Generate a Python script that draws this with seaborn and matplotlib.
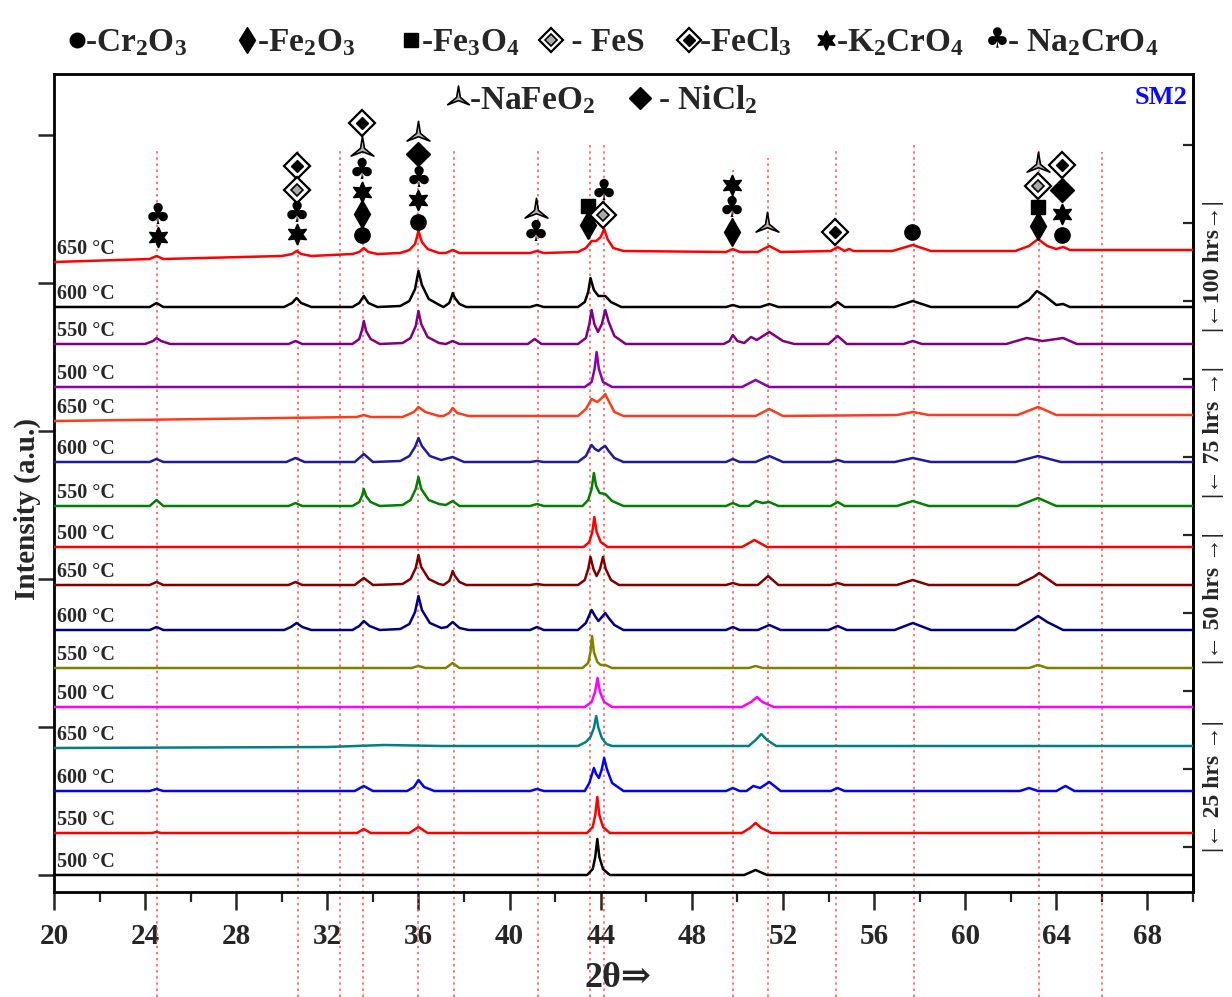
import numpy as np
import pandas as pd
import matplotlib
matplotlib.use("Agg")
import matplotlib.pyplot as plt
from matplotlib.path import Path
import seaborn as sns

# ------------------------------------------------------------------ data
temp_labels = ["650 °C", "600 °C", "550 °C", "500 °C"] * 4
durations = ["100 hrs"] * 4 + ["75 hrs"] * 4 + ["50 hrs"] * 4 + ["25 hrs"] * 4
stack_offsets = [613, 568, 531, 488, 454, 413, 369, 328, 290, 245, 207, 168, 127, 84, 42, 0]
trace_colors = ["#FF0000", "#000000", "#800080", "#8B00B0",
                "#FF3A1A", "#1C1C9C", "#008000", "#FF0000",
                "#800000", "#000080", "#808000", "#FF00FF",
                "#008080", "#0000FF", "#FF0000", "#000000"]

# (2theta, intensity a.u.) vertices
p100_650 = [(20,0),(24.2,3),(24.5,6),(24.8,3),(30.0,6),(30.45,8),(30.65,11),(30.85,8),(31.3,6),(33.1,8),(33.4,10),(33.6,14),(33.8,10),(34.2,8),(35.2,9),(35.6,12),(35.85,18),(36.0,31),(36.15,20),(36.4,13),(36.9,9),(37.2,9),(37.5,12),(37.8,9),(40.9,9),(41.2,11),(41.5,9),(43.0,10),(43.35,14),(43.6,21),(43.8,21),(44.0,25),(44.15,33),(44.3,23),(44.55,14),(45.0,11),(49.5,10),(49.8,13),(50.1,10),(50.9,10),(51.4,16),(51.9,10),(54.1,11),(54.4,15),(54.7,11),(54.9,13),(55.1,11),(56.8,11),(57.7,17),(58.5,11),(62.2,11),(62.8,16),(63.2,23),(63.6,16),(64.0,13),(64.3,15),(64.6,12),(70,12)]
p100_600 = [(20,0),(24.2,0),(24.5,4),(24.8,0),(30.1,0),(30.45,4),(30.65,9),(30.85,4),(31.3,0),(33.1,0),(33.4,4),(33.6,11),(33.8,4),(34.2,0),(35.2,1),(35.6,6),(35.85,18),(36.0,36),(36.15,22),(36.45,8),(37.0,1),(37.1,0),(37.35,4),(37.45,10),(37.5,14),(37.6,9),(37.8,3),(38.1,0),(40.9,0),(41.2,2),(41.5,0),(43.0,0),(43.3,5),(43.45,15),(43.55,29),(43.7,17),(43.9,11),(44.2,11),(44.45,5),(44.9,0),(49.5,0),(49.8,2),(50.1,0),(51.0,0),(51.4,3),(51.8,0),(54.1,0),(54.4,5),(54.7,0),(56.9,0),(57.7,6),(58.5,0),(62.3,0),(62.8,7),(63.15,16),(63.5,11),(64.0,2),(64.3,3),(64.6,0),(70,0)]
p100_550 = [(20,0),(24.0,0),(24.35,3),(24.5,6),(24.7,3),(25.1,0),(30.3,0),(30.6,3),(30.9,0),(33.1,0),(33.4,5),(33.52,14),(33.6,23),(33.7,13),(33.9,5),(34.3,0),(35.3,1),(35.65,6),(35.88,18),(36.0,33),(36.12,20),(36.4,7),(36.9,1),(37.2,0),(37.5,3),(37.8,0),(40.8,0),(41.1,5),(41.4,0),(43.0,0),(43.35,6),(43.5,20),(43.6,34),(43.72,20),(43.88,12),(44.05,20),(44.2,34),(44.35,22),(44.6,8),(45.1,0),(49.4,0),(49.65,3),(49.8,9),(50.0,3),(50.3,1),(50.6,7),(50.85,4),(51.4,12),(52.0,3),(52.5,0),(54.0,0),(54.4,8),(54.8,0),(57.3,0),(57.7,3),(58.1,0),(61.8,0),(62.7,6),(63.4,3),(64.3,6),(64.9,0),(70,0)]
p100_500 = [(20,0),(43.3,0),(43.6,5),(43.73,18),(43.82,35),(43.92,18),(44.1,5),(44.5,0),(50.2,0),(50.8,7),(51.4,0),(70,0)]
p75_650 = [(20,0),(30.0,3),(33.3,4),(33.6,6),(33.9,4),(35.3,4),(35.8,9),(36.0,14),(36.3,9),(36.9,5),(37.1,5),(37.35,8),(37.5,13),(37.7,8),(38.2,5),(43.0,5),(43.35,12),(43.6,22),(43.85,19),(44.05,23),(44.2,27),(44.35,20),(44.6,9),(45.0,5),(50.8,5),(51.4,12),(52.0,5),(57.0,6),(57.7,9),(58.4,6),(62.3,6),(63.2,14),(64.0,6),(70,6)]
p75_600 = [(20,0),(24.2,0),(24.5,3),(24.8,0),(30.2,0),(30.6,4),(31.0,0),(33.2,0),(33.6,8),(34.0,0),(35.2,1),(35.6,6),(35.85,15),(36.0,24),(36.15,16),(36.5,6),(37.0,2),(37.5,5),(38.0,0),(40.9,0),(41.2,1),(41.5,0),(43.0,0),(43.35,6),(43.5,13),(43.6,17),(43.75,13),(43.9,11),(44.05,14),(44.2,16),(44.35,11),(44.6,4),(45.0,0),(49.5,0),(49.8,3),(50.1,0),(50.8,0),(51.4,6),(52.0,0),(54.1,0),(54.4,2),(54.7,0),(56.9,0),(57.7,4),(58.5,0),(62.2,0),(63.2,6),(64.2,0),(70,0)]
p75_550 = [(20,0),(24.2,0),(24.5,6),(24.8,0),(30.3,0),(30.6,3),(30.9,0),(33.1,0),(33.4,4),(33.52,10),(33.6,17),(33.7,10),(33.9,4),(34.3,0),(35.3,1),(35.65,6),(35.88,17),(36.0,29),(36.12,17),(36.45,6),(36.9,2),(37.2,1),(37.5,5),(37.8,0),(40.9,0),(41.2,2),(41.5,0),(43.2,0),(43.45,6),(43.6,17),(43.7,33),(43.8,20),(43.95,13),(44.2,12),(44.5,5),(45.0,0),(49.5,0),(49.8,3),(50.1,0),(50.5,0),(50.8,5),(51.1,3),(51.4,4),(51.8,0),(54.1,0),(54.4,4),(54.7,0),(57.0,0),(57.7,5),(58.4,0),(62.3,0),(63.2,8),(64.0,0),(70,0)]
p75_500 = [(20,0),(43.25,0),(43.5,5),(43.63,15),(43.72,30),(43.82,15),(44.0,5),(44.3,0),(50.2,0),(50.75,7),(51.3,0),(70,0)]
p50_650 = [(20,0),(24.2,0),(24.5,3),(24.8,0),(30.3,0),(30.6,3),(30.9,0),(33.2,0),(33.6,7),(34.0,0),(35.3,1),(35.65,6),(35.88,17),(36.0,30),(36.12,18),(36.45,6),(36.9,1),(37.1,0),(37.35,4),(37.45,10),(37.5,14),(37.6,9),(37.8,3),(38.1,0),(40.9,0),(41.2,1),(41.5,0),(43.0,0),(43.3,5),(43.45,16),(43.55,28),(43.68,16),(43.82,9),(43.97,16),(44.1,28),(44.22,16),(44.45,5),(44.8,0),(49.5,0),(49.8,2),(50.1,0),(50.9,0),(51.35,9),(51.8,0),(54.1,0),(54.4,2),(54.7,0),(57.0,0),(57.7,5),(58.4,0),(62.3,0),(63.0,8),(63.25,12),(64.0,0),(70,0)]
p50_600 = [(20,0),(24.2,0),(24.5,3),(24.8,0),(30.1,0),(30.4,3),(30.65,7),(30.9,3),(31.3,0),(33.1,0),(33.4,4),(33.6,9),(33.85,4),(34.3,0),(35.2,1),(35.6,6),(35.85,18),(36.0,34),(36.15,20),(36.5,7),(37.0,2),(37.25,3),(37.5,8),(37.8,2),(38.2,0),(40.9,0),(41.2,3),(41.5,0),(43.0,0),(43.35,7),(43.5,15),(43.6,20),(43.75,14),(43.9,9),(44.05,13),(44.2,17),(44.35,12),(44.6,5),(45.0,0),(49.5,0),(49.8,3),(50.1,0),(50.9,0),(51.4,5),(51.9,0),(54.0,0),(54.4,4),(54.8,0),(56.9,0),(57.7,7),(58.5,0),(62.2,0),(62.8,8),(63.2,14),(63.6,8),(64.3,0),(70,0)]
p50_550 = [(20,0),(35.7,0),(36.0,2),(36.3,0),(37.2,0),(37.5,5),(37.8,0),(43.2,0),(43.45,5),(43.55,16),(43.62,32),(43.7,16),(43.85,6),(44.0,3),(44.2,3),(44.5,0),(50.5,0),(50.8,2),(51.1,0),(62.8,0),(63.2,3),(63.6,0),(70,0)]
p50_500 = [(20,0),(43.3,0),(43.6,5),(43.75,15),(43.86,29),(43.97,15),(44.15,5),(44.5,0),(50.2,0),(50.6,5),(50.86,10),(51.1,5),(51.6,0),(70,0)]
p25_650 = [(20,0),(32.0,1),(34.5,3),(37.0,2),(43.0,2),(43.35,6),(43.55,11),(43.7,20),(43.8,32),(43.9,20),(44.05,10),(44.25,4),(44.5,2),(50.5,2),(50.8,8),(51.05,14),(51.3,8),(51.7,2),(70,2)]
p25_600 = [(20,0),(24.2,0),(24.5,2),(24.8,0),(33.2,0),(33.6,5),(34.0,0),(35.5,0),(35.8,4),(36.0,11),(36.25,4),(36.7,0),(40.9,0),(41.2,2),(41.5,0),(43.3,0),(43.5,8),(43.62,17),(43.7,23),(43.8,17),(43.92,13),(44.05,22),(44.15,33),(44.27,22),(44.5,8),(45.0,0),(49.5,0),(49.8,3),(50.1,0),(50.4,0),(50.7,5),(51.0,3),(51.4,9),(51.9,0),(54.1,0),(54.4,3),(54.7,0),(62.4,0),(62.8,3),(63.2,0),(64.0,0),(64.4,5),(64.8,0),(70,0)]
p25_550 = [(20,0),(24.3,0),(24.5,1),(24.7,0),(33.3,0),(33.6,4),(33.9,0),(35.6,0),(36.0,6),(36.4,0),(43.4,0),(43.65,6),(43.76,18),(43.85,36),(43.94,18),(44.1,6),(44.4,0),(50.2,0),(50.55,5),(50.8,10),(51.05,5),(51.5,0),(70,0)]
p25_500 = [(20,0),(43.4,0),(43.65,6),(43.76,18),(43.85,36),(43.94,18),(44.1,6),(44.4,0),(50.3,0),(50.8,5),(51.3,0),(70,0)]

patterns = [p100_650, p100_600, p100_550, p100_500,
            p75_650, p75_600, p75_550, p75_500,
            p50_650, p50_600, p50_550, p50_500,
            p25_650, p25_600, p25_550, p25_500]

# reference (dotted) 2theta lines and their upper ends
ref_2theta = [24.54, 30.7, 32.55, 33.56, 35.97, 37.55, 41.25, 43.54, 44.16, 49.8, 51.35, 54.32, 57.75, 63.24, 66.02]
ref_tops = [727, 727, 727, 727, 727, 727, 727, 730, 730, 705, 717, 727, 730, 727, 723]

# phase identification marks above the top pattern: (2theta, height, phase)
phase_marks = [
    (24.55, 659, "Na2CrO4"), (24.55, 638, "K2CrO4"),
    (30.67, 709, "FeCl3"), (30.67, 685, "FeS"), (30.67, 661, "Na2CrO4"), (30.67, 641, "K2CrO4"),
    (33.5, 752, "FeCl3"), (33.5, 726, "NaFeO2"), (33.5, 704, "Na2CrO4"), (33.5, 683, "K2CrO4"),
    (33.5, 661, "Fe2O3"), (33.5, 640, "Cr2O3"),
    (36.0, 741, "NaFeO2"), (36.0, 721, "NiCl2"), (36.0, 696, "Na2CrO4"), (36.0, 675, "K2CrO4"), (36.0, 653, "Cr2O3"),
    (41.17, 664, "NaFeO2"), (41.17, 642, "Na2CrO4"),
    (43.46, 669, "Fe3O4"), (43.46, 650, "Fe2O3"),
    (44.12, 683, "Na2CrO4"), (44.12, 660, "FeS"),
    (49.77, 690, "K2CrO4"), (49.77, 666, "Na2CrO4"), (49.77, 643, "Fe2O3"),
    (51.3, 650, "NaFeO2"),
    (54.3, 643, "FeCl3"),
    (57.65, 643, "Cr2O3"),
    (63.2, 710, "NaFeO2"), (63.2, 689, "FeS"), (63.2, 668, "Fe3O4"), (63.2, 649, "Fe2O3"),
    (64.25, 710, "FeCl3"), (64.25, 685, "NiCl2"), (64.25, 661, "K2CrO4"), (64.25, 640, "Cr2O3"),
]

legend_row1 = [("Cr2O3", "-Cr$_2$O$_3$"), ("Fe2O3", "-Fe$_2$O$_3$"), ("Fe3O4", "-Fe$_3$O$_4$"),
               ("FeS", " - FeS"), ("FeCl3", "-FeCl$_3$"), ("K2CrO4", "-K$_2$CrO$_4$"),
               ("Na2CrO4", "- Na$_2$CrO$_4$")]
legend_row2 = [("NaFeO2", "-NaFeO$_2$"), ("NiCl2", " - NiCl$_2$")]
xtick_values = list(range(20, 70, 4))
ytick_values = [0, 148, 296, 444, 592, 740]
right_tick_values = [730, 652, 574, 496, 418, 340, 262, 184, 106, 28]

# ------------------------------------------------------------------ style
sns.set_style("ticks")
plt.rcParams["font.family"] = ["Liberation Serif", "DejaVu Serif"]
plt.rcParams["font.weight"] = "bold"
plt.rcParams["mathtext.default"] = "regular"
plt.rcParams["mathtext.fontset"] = "custom"
plt.rcParams["mathtext.rm"] = "Liberation Serif:bold"
plt.rcParams["mathtext.it"] = "Liberation Serif:bold"
plt.rcParams["mathtext.bf"] = "Liberation Serif:bold"

W, H = 1232, 997
fig = plt.figure(figsize=(W / 100, H / 100), dpi=100)
L, R, T, B = 54, 1193, 74, 892
ax = fig.add_axes([L / W, 1 - B / H, (R - L) / W, (B - T) / H])

# traces
for pts, off, col in zip(patterns, stack_offsets, trace_colors):
    df = pd.DataFrame(pts, columns=["two_theta", "intensity"])
    df["intensity"] = df["intensity"] + off
    sns.lineplot(data=df, x="two_theta", y="intensity", ax=ax, color=col,
                 lw=1.8, estimator=None, sort=False, legend=False, zorder=3)

# temperature labels
for lab, off, pts in zip(temp_labels, stack_offsets, patterns):
    ax.text(20.13, off + pts[0][1] + 3, lab, fontsize=14.5, fontweight="bold",
            ha="left", va="bottom", zorder=4)

# reference lines
ax.vlines(ref_2theta, -122, ref_tops, colors="#FF5050", linestyles=(0, (1.6, 2.4)),
          lw=1.1, zorder=1, clip_on=False)

# three-bladed mark used for NaFeO2 (one blade up, two blades down)
_verts = []
for a in (90, 210, 330):
    ao = np.deg2rad(a)
    ai = np.deg2rad(a + 60)
    _verts.append((np.cos(ao), np.sin(ao)))
    _verts.append((0.17 * np.cos(ai), 0.17 * np.sin(ai)))
_verts.append(_verts[0])
TRI_BLADE = Path(_verts, [Path.MOVETO] + [Path.LINETO] * (len(_verts) - 2) + [Path.CLOSEPOLY])


def draw_phase(axx, x, y, phase, s=1.0):
    kw = dict(ls="none", clip_on=False, zorder=6)
    if phase == "Cr2O3":
        axx.plot([x], [y], marker="o", ms=11 * s, color="black", **kw)
    elif phase == "Fe2O3":
        axx.plot([x], [y], marker="d", ms=14 * s, color="black", **kw)
    elif phase == "Fe3O4":
        axx.plot([x], [y], marker="s", ms=10 * s, color="black", **kw)
    elif phase in ("FeS", "FeCl3"):
        axx.plot([x], [y], marker="D", ms=13 * s, mfc="white", mec="black", mew=1.6, **kw)
        if phase == "FeS":
            axx.plot([x], [y], marker="D", ms=6.5 * s, mfc="#aaaaaa", mec="black", mew=1.2, **kw)
        else:
            axx.plot([x], [y], marker="D", ms=6.5 * s, mfc="black", mec="black", mew=1.0, **kw)
    elif phase == "K2CrO4":
        axx.plot([x], [y], marker=(6, 1, 0), ms=15 * s, color="black", **kw)
    elif phase == "Na2CrO4":
        axx.text(x, y, "\u2663", fontsize=21 * s, family="DejaVu Sans", ha="center",
                 va="center", color="black", zorder=6, clip_on=False)
    elif phase == "NaFeO2":
        axx.plot([x], [y], marker=TRI_BLADE, ms=19 * s, mfc="#b8b8b8", mec="black", mew=1.2, **kw)
    elif phase == "NiCl2":
        axx.plot([x], [y], marker="D", ms=12 * s, color="black", **kw)


for x, y, ph in phase_marks:
    draw_phase(ax, x, y, ph)

# axes formatting
ax.set_xlim(20, 70)
ax.set_ylim(-17, 801)
ax.set_xticks(xtick_values)
ax.set_xticks(list(range(22, 71, 4)), minor=True)
ax.set_yticks(ytick_values)
ax.set_yticklabels([])
ax.tick_params(axis="x", which="major", direction="out", length=13, width=1.8,
               labelsize=21, pad=9)
ax.tick_params(axis="x", which="minor", direction="out", length=7, width=1.6)
ax.tick_params(axis="y", which="major", direction="out", length=11.5, width=1.8)
ax.set_xlabel("")
ax.set_ylabel("")
for sp in ax.spines.values():
    sp.set_linewidth(2)
    sp.set_color("black")
for lbl in ax.get_xticklabels():
    lbl.set_fontweight("bold")

sec = ax.secondary_yaxis("right")
sec.set_yticks(right_tick_values)
sec.set_yticklabels([])
sec.tick_params(direction="in", length=7, width=1.6)
sec.spines["right"].set_linewidth(2)

# axis titles
fig.text(27 / W, 1 - 509 / H, "Intensity (a.u.)", rotation=90, fontsize=21,
         fontweight="bold", ha="center", va="center")
fig.text(618 / W, 1 - 978 / H, "2θ⇒", fontsize=26, fontweight="bold",
         ha="center", va="center")

# overlay in pixel coordinates for legend rows
ov = fig.add_axes([0, 0, 1, 1])
ov.set_xlim(0, W)
ov.set_ylim(H, 0)
ov.axis("off")

row1_sym_x = [77, 247, 411, 551, 689, 826, 997]
row1_txt_x = [85, 257, 421, 563, 699, 836, 1007]
for (ph, txt), sx, tx in zip(legend_row1, row1_sym_x, row1_txt_x):
    draw_phase(ov, sx, 40, ph, s=0.95)
    ov.text(tx, 51, txt, fontsize=24, fontweight="bold", ha="left", va="baseline")

row2_sym_x = [458, 640]
row2_txt_x = [469, 650]
for (ph, txt), sx, tx in zip(legend_row2, row2_sym_x, row2_txt_x):
    draw_phase(ov, sx, 98, ph, s=0.95)
    ov.text(tx, 109, txt, fontsize=24, fontweight="bold", ha="left", va="baseline")

ov.text(1188, 97, "SM2", fontsize=19, fontweight="bold", color="#0A0AFF",
        ha="right", va="center")

# duration brackets on the right
hrs_text = ["|←100 hrs→|", "|← 75 hrs →|", "|← 50 hrs →|", "|← 25 hrs →|"]
hrs_center = [266, 432, 598, 786]
for t, yc in zip(hrs_text, hrs_center):
    ov.text(1213, yc, t, rotation=90, fontsize=17, fontweight="bold",
            ha="center", va="center")

fig.savefig("out.png", dpi=100)
